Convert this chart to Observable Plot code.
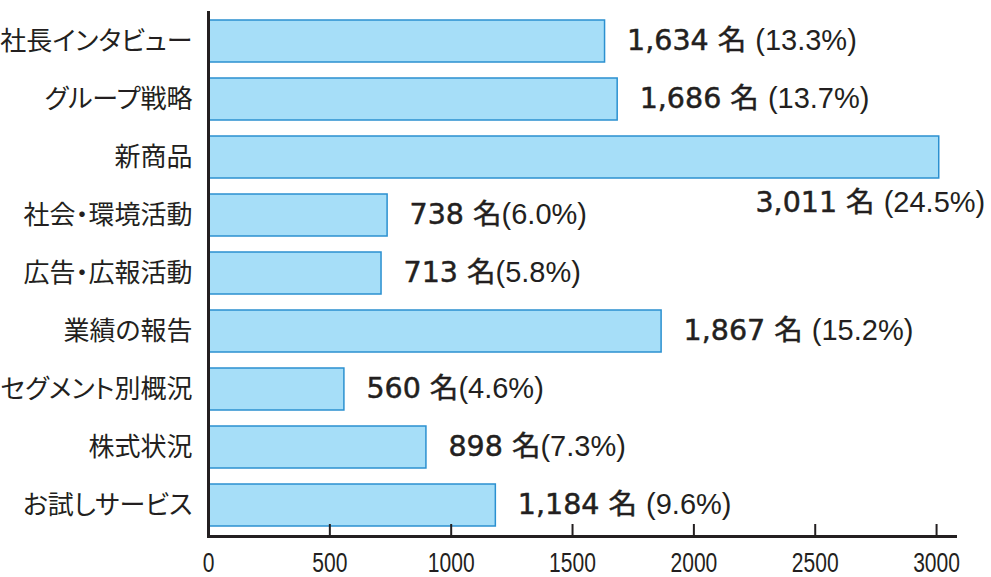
<!DOCTYPE html>
<html><head><meta charset="utf-8">
<script src="https://cdn.jsdelivr.net/npm/d3@7"></script>
<script src="https://cdn.jsdelivr.net/npm/@observablehq/plot@0.6"></script>
<style>body{margin:0;background:#fff}</style>
</head><body><div id="chart"></div>
<script>
const categories = ["社長インタビュー","グループ戦略","新商品","社会・環境活動","広告・広報活動","業績の報告","セグメント別概況","株式状況","お試しサービス"];
const counts = [1634, 1686, 3011, 738, 713, 1867, 560, 898, 1184];
const shares = [13.3, 13.7, 24.5, 6.0, 5.8, 15.2, 4.6, 7.3, 9.6];
const xTicks = [0, 500, 1000, 1500, 2000, 2500, 3000];
const unit = "名";

const data = categories.map((c, i) => ({category: c, count: counts[i], share: shares[i]}));
const label = d => `${d3.format(",")(d.count)} ${unit}${d.count >= 1000 ? " " : ""}(${d.share.toFixed(1)}%)`;
const isLong = d => d.count > 2500;
const ink = "#231f20";

const chart = Plot.plot({
  width: 991, height: 577,
  marginLeft: 208, marginRight: 36, marginTop: 11, marginBottom: 41,
  style: {background: "#fff", color: ink, fontFamily: "'Liberation Sans', sans-serif"},
  x: {domain: [0, 3078], axis: null},
  y: {domain: categories, range: [19, 527], paddingInner: 0.28, paddingOuter: 0, axis: null},
  marks: [
    Plot.barX(data, {x: "count", y: "category", fill: "#a6def8", stroke: "#2b90d0", strokeWidth: 1.5}),
    Plot.ruleX([0], {stroke: ink, strokeWidth: 3}),
    Plot.frame({anchor: "bottom", stroke: ink, strokeWidth: 3}),
    Plot.axisX(xTicks, {label: null, tickFormat: d => String(d), tickSize: -12, tickPadding: 47, strokeWidth: 2, stroke: ink, fill: ink, fontSize: 28, fontFamily: "'Liberation Sans', sans-serif"}),
    Plot.axisY({label: null, tickSize: 0, tickPadding: 16, fill: ink, fontSize: 26, fontFamily: "'Noto Sans CJK JP', sans-serif"}),
    Plot.text(data.filter(d => !isLong(d)), {x: "count", y: "category", text: label, textAnchor: "start", dx: 22, fontSize: 28, fill: ink}),
    Plot.text(data.filter(isLong), {x: "count", y: "category", text: label, textAnchor: "end", dx: 46, dy: 46, fontSize: 28, fill: ink})
  ]
});
document.getElementById("chart").append(chart);

const NS = "http://www.w3.org/2000/svg";
function squeeze(t, k) {
  const x = +t.getAttribute("x") || 0, y = +t.getAttribute("y") || 0;
  const tr = t.getAttribute("transform") || "";
  t.removeAttribute("x"); t.removeAttribute("y");
  t.setAttribute("transform", `${tr} translate(${x},${y}) scale(${k},1)`);
}
chart.querySelectorAll('g[aria-label="x-axis tick label"] text').forEach(t => {
  t.setAttribute("font-size", 27);
  t.style.fontSize = "27px";
  squeeze(t, 0.78);
});
chart.querySelectorAll('g[aria-label="y-axis tick label"] text').forEach(t => {
  t.style.fontSize = "26px";
  t.style.fontFeatureSettings = '"palt"';
});
chart.querySelectorAll('g[aria-label="text"] text').forEach(t => {
  const s = t.textContent, i = s.indexOf("(");
  t.textContent = "";
  const a = document.createElementNS(NS, "tspan");
  a.textContent = s.slice(0, i);
  a.setAttribute("font-family", "'DejaVu Sans', 'Noto Sans CJK JP', sans-serif");
  a.setAttribute("font-size", 28.5);
  a.setAttribute("stroke", ink);
  a.setAttribute("stroke-width", 0.5);
  const b = document.createElementNS(NS, "tspan");
  b.textContent = s.slice(i);
  b.setAttribute("font-family", "'Liberation Sans', sans-serif");
  b.setAttribute("font-size", 29);
  b.setAttribute("stroke", "none");
  t.append(a, b);
});
</script>
</body></html>
